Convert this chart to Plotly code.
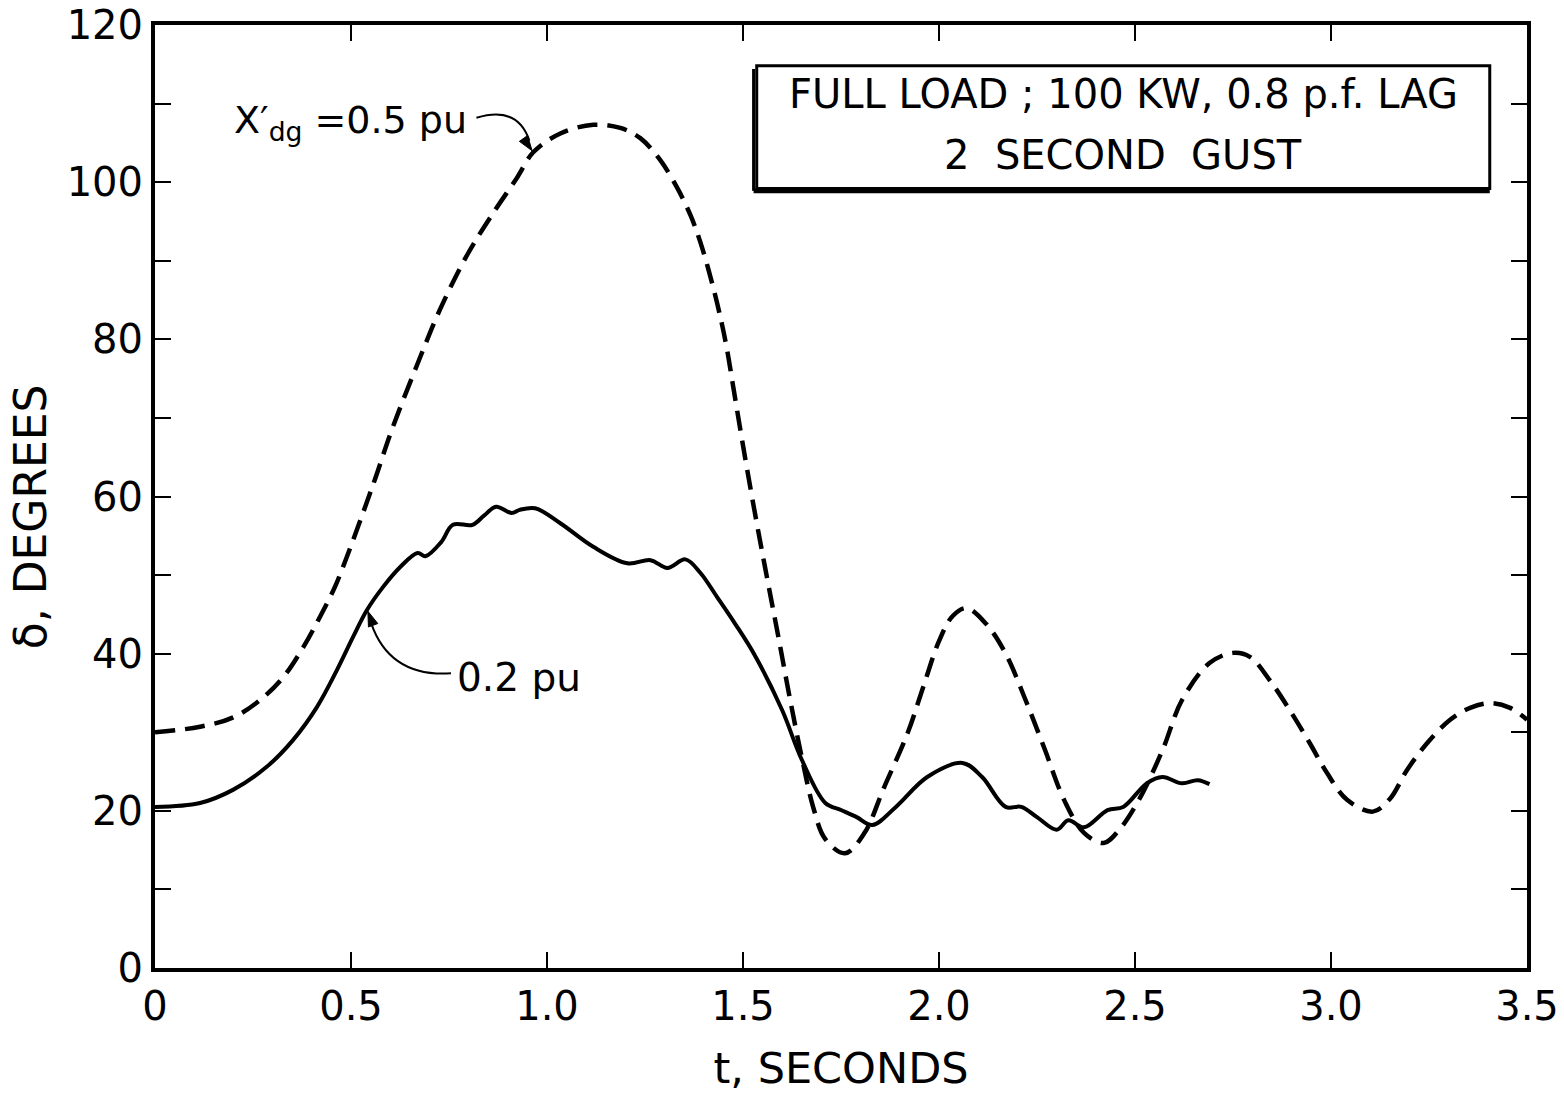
import math
import plotly.graph_objects as go

# Rotor angle swing for a 2 s wind gust, full load (100 kW, 0.8 p.f. lag)
t_05 = [0.00, 0.115, 0.20, 0.268, 0.327, 0.378, 0.421, 0.459, 0.49, 0.557, 0.605,
        0.669, 0.728, 0.797, 0.863, 0.924, 0.965, 1.034, 1.118, 1.187, 1.238, 1.289,
        1.333, 1.366, 1.391, 1.422, 1.446, 1.46, 1.473, 1.50, 1.53, 1.56, 1.59, 1.62,
        1.65, 1.68, 1.71, 1.76, 1.81, 1.86, 1.92, 1.96, 2.00, 2.035, 2.07, 2.12, 2.17,
        2.22, 2.27, 2.32, 2.37, 2.42, 2.46, 2.51, 2.57, 2.62, 2.69, 2.75, 2.793, 2.844,
        2.895, 2.946, 2.99, 3.041, 3.107, 3.15, 3.194, 3.245, 3.304, 3.355, 3.406,
        3.457, 3.50]
delta_05 = [30.0, 30.7, 31.9, 34.1, 37.0, 40.8, 44.7, 48.5, 52.4, 61.6, 68.6,
            76.8, 83.9, 90.8, 96.1, 100.6, 103.8, 106.2, 107.3, 106.9, 105.6, 102.8,
            99.2, 95.8, 92.4, 87.0, 82.0, 78.5, 74.6, 66.5, 58.0, 50.0, 42.2, 34.2,
            26.8, 20.3, 16.4, 14.6, 17.2, 23.0, 29.9, 35.8, 41.6, 44.8, 45.8, 43.8, 40.0,
            34.2, 27.8, 21.3, 17.2, 15.9, 17.6, 21.4, 27.7, 34.1, 38.8, 40.1, 39.6, 36.6,
            32.8, 28.6, 24.8, 21.4, 19.9, 21.5, 25.2, 28.6, 31.6, 33.1, 33.7,
            33.1, 31.6]

t_02 = [0.00, 0.115, 0.20, 0.285, 0.352, 0.413, 0.464, 0.505, 0.54, 0.582, 0.625,
        0.67, 0.69, 0.73, 0.76, 0.81, 0.84, 0.87, 0.91, 0.93, 0.97, 1.034, 1.118,
        1.205, 1.264, 1.307, 1.353, 1.391, 1.434, 1.48, 1.53, 1.60, 1.65, 1.71, 1.75,
        1.79, 1.83, 1.89, 1.97, 2.06, 2.11, 2.17, 2.21, 2.25, 2.30, 2.33, 2.37, 2.43,
        2.47, 2.53, 2.57, 2.62, 2.66, 2.69]
delta_02 = [20.5, 21.0, 22.7, 25.6, 29.0, 33.2, 37.9, 42.1, 45.5, 48.5, 51.0,
            52.8, 52.4, 54.2, 56.4, 56.4, 57.6, 58.7, 57.9, 58.3, 58.5, 56.6, 53.6,
            51.5, 51.9, 50.9, 52.0, 50.3, 47.2, 43.8, 39.8, 32.8, 26.5, 21.0, 20.1,
            19.2, 18.2, 20.5, 24.3, 26.1, 24.3, 20.5, 20.5, 19.2, 17.6, 18.8, 17.9, 20.1,
            20.5, 23.5, 24.3, 23.5, 23.9, 23.4]

x_ticks = [0, 0.5, 1.0, 1.5, 2.0, 2.5, 3.0, 3.5]
x_ticktext = ["0", "0.5", "1.0", "1.5", "2.0", "2.5", "3.0", "3.5"]
y_ticks = [0, 20, 40, 60, 80, 100, 120]
y_ticktext = ["0", "20", "40", "60", "80", "100", "120"]

FONT = "DejaVu Sans"
INK = "black"
W, H = 1564, 1103
ML, MR, MT, MB = 155, 37, 25, 135
X_RANGE, Y_RANGE = (0, 3.5), (0, 120)
PX_X = (W - ML - MR) / (X_RANGE[1] - X_RANGE[0])   # pixels per second
PX_Y = (H - MT - MB) / (Y_RANGE[1] - Y_RANGE[0])   # pixels per degree


def arrow_head(tip_x, tip_y, dir_px, length=15, half_width=5):
    """Filled triangular arrowhead path; dir_px is the pointing direction in screen pixels."""
    dx, dy = dir_px
    n = math.hypot(dx, dy)
    ux, uy = dx / n, dy / n
    bx, by = -ux * length, -uy * length          # back from tip (screen px)
    px, py = -uy * half_width, ux * half_width   # perpendicular
    pts = [(0, 0), (bx + px, by + py), (bx - px, by - py)]
    coords = [(tip_x + sx / PX_X, tip_y - sy / PX_Y) for sx, sy in pts]
    return "M " + " L ".join(f"{a:.4f},{b:.3f}" for a, b in coords) + " Z"


fig = go.Figure()
fig.add_trace(go.Scatter(x=t_05, y=delta_05, mode="lines", line_shape="spline",
                         line=dict(color=INK, width=4.5, dash="20px,10px"),
                         name="X'dg = 0.5 pu"))
fig.add_trace(go.Scatter(x=t_02, y=delta_02, mode="lines", line_shape="spline",
                         line=dict(color=INK, width=4), name="0.2 pu"))

axis_common = dict(showline=True, linecolor=INK, linewidth=4, mirror="ticks",
                   ticks="inside", ticklen=16, tickwidth=2, tickcolor=INK,
                   showgrid=False, zeroline=False, automargin=False,
                   tickfont=dict(family=FONT, size=40, color=INK))

fig.update_xaxes(range=list(X_RANGE), tickvals=x_ticks, ticktext=x_ticktext,
                 title=dict(text="t, SECONDS", font=dict(family=FONT, size=43, color=INK),
                            standoff=26),
                 **axis_common)
fig.update_yaxes(range=list(Y_RANGE), tickvals=y_ticks, ticktext=y_ticktext,
                 minor=dict(dtick=10, ticks="inside", ticklen=16, tickwidth=2, tickcolor=INK),
                 **axis_common)

# Vertical axis title, set slightly below the plot centre
fig.add_annotation(xref="paper", yref="paper", x=0, xshift=-125, y=0.478,
                   xanchor="center", yanchor="middle", textangle=-90, showarrow=False,
                   text="δ, DEGREES", font=dict(family=FONT, size=44, color=INK))

# Curved leader lines with arrowheads for the curve labels
fig.add_shape(type="path", xref="x", yref="y",
              path="M 0.82,108.2 Q 0.925,109.8 0.955,105.3",
              line=dict(color=INK, width=2))
fig.add_shape(type="path", xref="x", yref="y", path=arrow_head(0.962, 104.0, (12, 17)),
              line=dict(color=INK, width=1), fillcolor=INK)
fig.add_shape(type="path", xref="x", yref="y",
              path="M 0.755,37.5 Q 0.60,37.0 0.552,43.8",
              line=dict(color=INK, width=2))
fig.add_shape(type="path", xref="x", yref="y", path=arrow_head(0.543, 45.4, (-6, -16)),
              line=dict(color=INK, width=1), fillcolor=INK)

fig.add_annotation(x=0.80, y=107.6, xanchor="right", yanchor="middle", showarrow=False,
                   text="X′<sub>dg</sub> =0.5 pu",
                   font=dict(family=FONT, size=38, color=INK))
fig.add_annotation(x=0.765, y=37.0, xanchor="left", yanchor="middle", showarrow=False,
                   text="0.2 pu", font=dict(family=FONT, size=39, color=INK))

# Boxed caption
fig.add_shape(type="rect", xref="x", yref="y", x0=1.535, x1=3.405, y0=99.2, y1=114.8,
              line=dict(color=INK, width=3), fillcolor="white")
fig.add_shape(type="line", xref="x", yref="y", x0=1.527, x1=3.405, y0=98.9, y1=98.9,
              line=dict(color=INK, width=5))
fig.add_shape(type="line", xref="x", yref="y", x0=1.527, x1=1.527, y0=98.9, y1=114.4,
              line=dict(color=INK, width=3))
fig.add_annotation(x=2.47, y=111.2, showarrow=False,
                   text="FULL LOAD ; 100 KW, 0.8 p.f. LAG",
                   font=dict(family=FONT, size=40, color=INK))
fig.add_annotation(x=2.47, y=103.5, showarrow=False, text="2  SECOND  GUST",
                   font=dict(family=FONT, size=40, color=INK))

fig.update_layout(width=W, height=H, showlegend=False,
                  paper_bgcolor="white", plot_bgcolor="white",
                  margin=dict(l=ML, r=MR, t=MT, b=MB))

fig.write_html("out.html")
